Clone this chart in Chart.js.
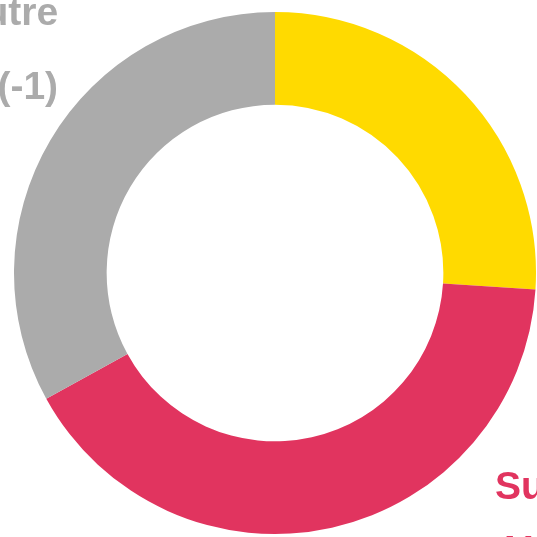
<!DOCTYPE html>
<html>
<head>
<meta charset="utf-8">
<script src="https://cdn.jsdelivr.net/npm/chart.js@4"></script>
<style>
  html, body { margin: 0; padding: 0; background: #ffffff; }
  #wrap { width: 537px; height: 537px; position: relative; }
</style>
</head>
<body>
<div id="wrap"><canvas id="donutChart"></canvas></div>
<script>
// data (share of the ring, clockwise from 12 o'clock)
const categories = ["Jaune", "Supérieur", "Autre"];
const shares = [26, 41, 33];
const sliceColors = ["#FFDA00", "#E1345F", "#ABABAB"];

// outside labels (only the parts that fall inside the frame show up)
const labelLines = [
    [],
    ["Supérieur", "41 %"],
    ["Autre", "", "(-1)"]
];

// where each label sits, in units of the outer radius from the centre
const labelSpots = [
    null,
    { dx: 0.843, dy: 0.866, align: "left", lineStep: 0.245 },
    { dx: -0.831, dy: -0.950, align: "right", lineStep: 0.142 }
];

const outsideLabels = {
    id: "outsideLabels",
    afterDraw(chart) {
        const ctx = chart.ctx;
        const arcs = chart.getDatasetMeta(0).data;
        ctx.save();
        ctx.font = "bold 39px 'Liberation Sans', Arial, sans-serif";
        ctx.textBaseline = "alphabetic";
        for (var i = 0; i < arcs.length; i++) {
            var spot = labelSpots[i];
            if (!spot) continue;
            var arc = arcs[i];
            var R = arc.outerRadius;
            ctx.fillStyle = sliceColors[i];
            ctx.textAlign = spot.align;
            var lines = labelLines[i];
            for (var j = 0; j < lines.length; j++) {
                ctx.fillText(lines[j], arc.x + spot.dx * R, arc.y + (spot.dy + j * spot.lineStep) * R);
            }
        }
        ctx.restore();
    }
};

const donutChart = new Chart(document.getElementById("donutChart"), {
    type: "doughnut",
    data: {
        labels: categories,
        datasets: [{
            data: shares,
            backgroundColor: sliceColors,
            borderWidth: 0
        }]
    },
    options: {
        responsive: true,
        maintainAspectRatio: false,
        animation: false,
        cutout: "64.5%",
        layout: { padding: { left: 14, right: 1, top: 12, bottom: 3 } },
        plugins: {
            legend: { display: false },
            tooltip: { enabled: false }
        }
    },
    plugins: [outsideLabels]
});
</script>
</body>
</html>
